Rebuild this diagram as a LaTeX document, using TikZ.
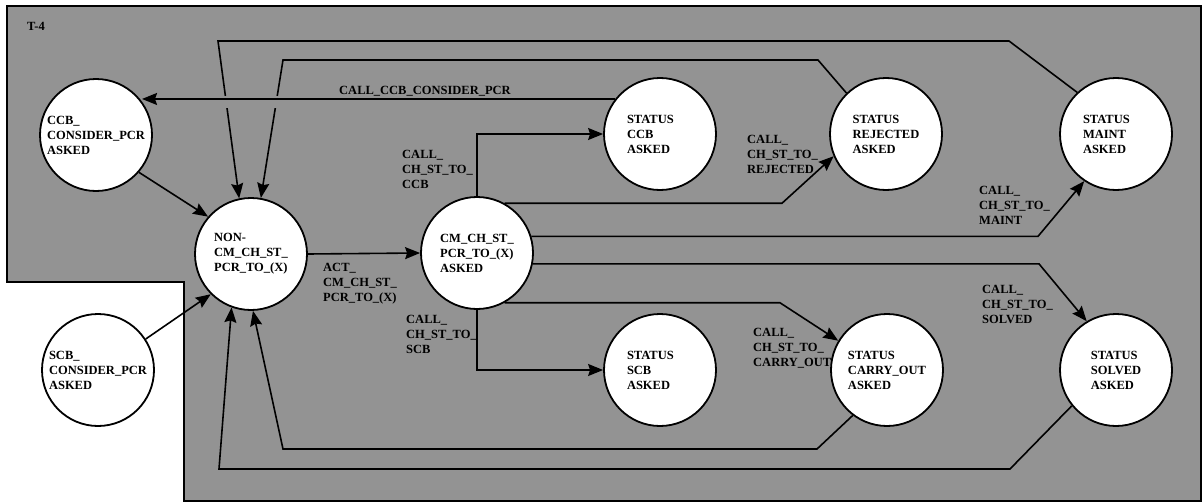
\documentclass[tikz,border=0pt]{standalone}
\usepackage{fontspec}
\setmainfont{Liberation Serif}
\usetikzlibrary{arrows.meta}
\pgfdeclarelayer{bg}
\pgfsetlayers{bg,main}
\definecolor{panel}{RGB}{147,147,147}
\newcommand{\dgfont}{\fontsize{12.5}{15}\selectfont\bfseries}
\tikzset{
  st/.style={circle, draw=black, line width=1.8pt, fill=white, minimum size=112pt, inner sep=0pt, align=left, font=\dgfont},
  lbl/.style={anchor=north west, inner sep=0pt, align=left, font=\dgfont},
  conn/.style={line width=1.6pt},
  arr/.style={conn, -{Stealth[length=15pt,width=12pt,inset=2pt]}},
}
\begin{document}
\begin{tikzpicture}[x=1pt,y=-1pt]
\useasboundingbox (0,0) rectangle (1202,503);
% states
\node[st] (ccbc) at (96,135) {CCB\_\\CONSIDER\_PCR\\ASKED};
\node[st] (non) at (251,254) {NON-\\CM\_CH\_ST\_\\PCR\_TO\_(X)};
\node[st] (cm) at (477,253) {CM\_CH\_ST\_\\PCR\_TO\_(X)\\ASKED};
\node[st, text width=66pt] (sccb) at (660,134) {STATUS\\CCB\\ASKED};
\node[st] (srej) at (886,134) {STATUS\\REJECTED\\ASKED};
\node[st, text width=66pt] (smaint) at (1116,134) {STATUS\\MAINT\\ASKED};
\node[st] (scbc) at (98,370) {SCB\_\\CONSIDER\_PCR\\ASKED};
\node[st, text width=66pt] (sscb) at (660,370) {STATUS\\SCB\\ASKED};
\node[st] (scarry) at (887,370) {STATUS\\CARRY\_OUT\\ASKED};
\node[st] (ssolved) at (1116,370) {STATUS\\SOLVED\\ASKED};
\begin{pgfonlayer}{bg}
\draw[line width=2pt, fill=panel] (7,6.5) -- (1200.5,6.5) -- (1200.5,501) -- (184,501) -- (184,282) -- (7,282) -- cycle;
% labels
\node[lbl] (t4) at (27,22) {T-4};
\node[lbl] (lccb) at (339,86) {CALL\_CCB\_CONSIDER\_PCR};
\node[lbl] (lact) at (323,263) {ACT\_\\CM\_CH\_ST\_\\PCR\_TO\_(X)};
\node[lbl] (lcccb) at (402,150) {CALL\_\\CH\_ST\_TO\_\\CCB};
\node[lbl] (lrej) at (747,135) {CALL\_\\CH\_ST\_TO\_\\REJECTED};
\node[lbl] (lmaint) at (979,186) {CALL\_\\CH\_ST\_TO\_\\MAINT};
\node[lbl] (lsolved) at (982,285) {CALL\_\\CH\_ST\_TO\_\\SOLVED};
\node[lbl] (lcarry) at (753,328) {CALL\_\\CH\_ST\_TO\_\\CARRY\_OUT};
\node[lbl] (lscb) at (406,315) {CALL\_\\CH\_ST\_TO\_\\SCB};
% top loops
\coordinate (a1) at (1009,41);
\coordinate (a2) at (218,41);
\draw[arr] (smaint.133.6) -- (a1) -- (a2) -- (non.102.8);
\coordinate (b1) at (818,60);
\coordinate (b2) at (283,60);
\draw[arr] (srej.134.3) -- (b1) -- (b2) -- (non.80);
% gap where the loops pass under the CALL_CCB_CONSIDER_PCR line
\draw[panel, line width=12pt] (205,102) -- (300,102);
\draw[arr] (sccb.142) -- (sccb.142 -| ccbc.36.7);
% into NON-
\draw[arr] (ccbc.319) -- (non.139.3);
\draw[arr] (scbc.33.4) -- (non.225.7);
\draw[arr] (non.east) -- (cm.west);
% out of CM
\draw[arr] (cm.north) |- (sccb.west);
\draw[arr] (cm.south) |- (sscb.west);
\coordinate (r1) at (782,204);
\draw[arr] (cm.61) -- (cm.61 -| r1) -- (srej.203.5);
\coordinate (m1) at (1038,236);
\draw[arr] (cm.17.7) -- (cm.17.7 -| m1) -- (smaint.236.6);
\coordinate (v1) at (1039,263);
\draw[arr] (cm.349.7) -- (cm.349.7 -| v1) -- (ssolved.121);
\coordinate (c1) at (780,302);
\draw[arr] (cm.299) -- (cm.299 -| c1) -- (scarry.149);
% bottom loops
\coordinate (d1) at (817,449);
\coordinate (d2) at (283,449);
\draw[arr] (scarry.233) -- (d1) -- (d2) -- (non.272);
\coordinate (e1) at (1010,469);
\coordinate (e2) at (219,469);
\draw[arr] (ssolved.219) -- (e1) -- (e2) -- (non.250.4);
\end{pgfonlayer}
\end{tikzpicture}
\end{document}
